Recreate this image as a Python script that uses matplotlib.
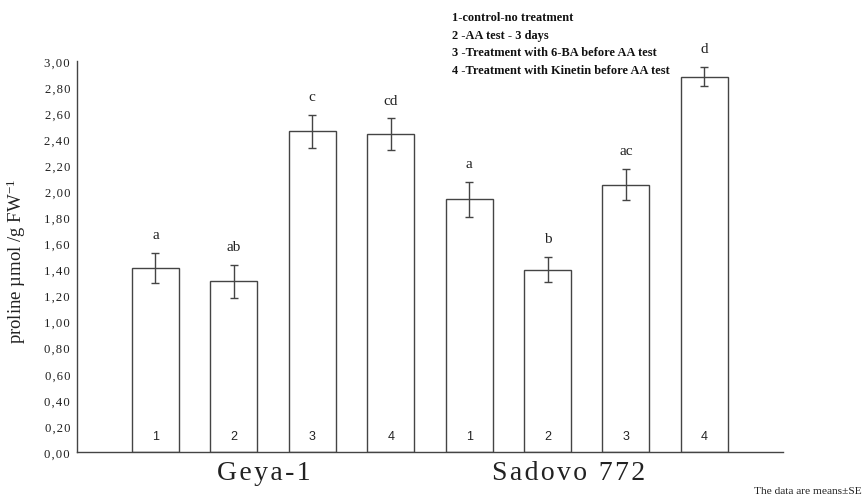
import numpy as np
import matplotlib.pyplot as plt
from matplotlib.ticker import FuncFormatter

# proline content, two cultivars x four treatments
cultivars = ['Geya-1', 'Sadovo 772']
treatments = ['1', '2', '3', '4']
means = [1.41, 1.31, 2.46, 2.44, 1.94, 1.40, 2.05, 2.88]
se = [0.115, 0.125, 0.125, 0.12, 0.135, 0.095, 0.12, 0.075]
letters = ['a', 'ab', 'c', 'cd', 'a', 'b', 'ac', 'd']
legend_lines = ['1-control-no treatment',
                '2 -AA test - 3 days',
                '3 -Treatment with 6-BA before AA test',
                '4 -Treatment with Kinetin before AA test']
yticks = np.arange(0, 3.01, 0.2)

plt.rcParams['mathtext.fontset'] = 'custom'
plt.rcParams['mathtext.rm'] = 'Liberation Serif'
plt.rcParams['mathtext.it'] = 'Liberation Serif:italic'

serif = ['Liberation Serif', 'DejaVu Serif']
hair = '\u200a'
edge = '#444444'

fig = plt.figure(figsize=(8.65, 5.02), dpi=100)
ax = fig.add_axes([0.089, 0.0976, 0.816, 0.779])

x = np.arange(len(means))
ax.bar(x, means, width=0.6, color='white', edgecolor=edge, linewidth=1.0)
ax.errorbar(x, means, yerr=se, fmt='none', ecolor=edge, elinewidth=1.0,
            capsize=3.2, capthick=1.0)

# treatment number inside each bar
for i in x:
    ax.text(i, 0.125, treatments[i % 4], ha='center', va='center',
            fontsize=9, family='Liberation Sans', color='#222222')

# significance letters above the error bars
for i in x:
    ax.text(i, means[i] + se[i] + 0.14, letters[i], ha='center', va='center',
            fontsize=11, family=serif, color='#222222', clip_on=False)

# cultivar names under each group of four bars
for name, xc in zip(cultivars, [1.38, 5.27]):
    spaced = hair.join(name)
    ax.text(xc, -0.155, spaced, ha='center', va='center', fontsize=20,
            family=serif, color='#222222', clip_on=False)

ax.set_xlim(-1, 8)
ax.set_ylim(0, 3.0)
ax.set_xticks([])
ax.set_yticks(yticks)
ax.yaxis.set_major_formatter(FuncFormatter(
    lambda v, p: hair.join(f'{v:.2f}'.replace('.', ','))))
ax.tick_params(axis='y', length=0, pad=5, labelsize=9.2, labelcolor='#222222')
for lab in ax.get_yticklabels():
    lab.set_family(serif)

for s in ['top', 'right']:
    ax.spines[s].set_visible(False)
for s in ['left', 'bottom']:
    ax.spines[s].set_color(edge)
    ax.spines[s].set_linewidth(1.0)

ax.set_ylabel(r'proline µmol /g FW$^{\mathregular{-1}}$', fontsize=13.5,
              family=serif, color='#222222', labelpad=4)
ax.yaxis.set_label_coords(-0.07, 0.49)

for k, line in enumerate(legend_lines):
    fig.text(452 / 865, 1 - (18 + 17.5 * k) / 502, line, ha='left',
             va='center', fontsize=8.9, fontweight='bold', family=serif,
             color='#111111')

fig.text(862 / 865, 1 - 492 / 502, 'The data are means±SE', ha='right',
         va='center', fontsize=8.2, family=serif, color='#222222')

fig.savefig('out.png', dpi=100)
